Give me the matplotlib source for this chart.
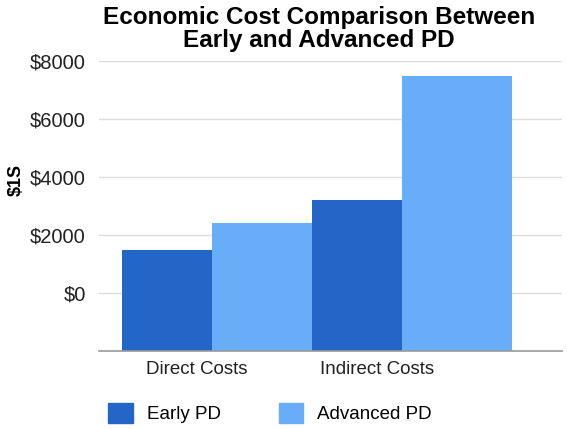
import matplotlib
matplotlib.use('Agg')
import matplotlib.pyplot as plt
from matplotlib.patches import Patch
import numpy as np

plt.rcParams['font.family'] = ['Liberation Sans', 'DejaVu Sans']

# data
categories = ['Direct Costs', 'Indirect Costs']
early_pd = [1500, 3200]
advanced_pd = [2400, 7500]
y_ticks = [0, 2000, 4000, 6000, 8000]
y_bottom = -2000

early_color = '#2366C8'
adv_color = '#67ADF7'

fig = plt.figure(figsize=(5.67, 4.29), dpi=100)
ax = fig.add_axes([99 / 567, 1 - 351 / 429, 463 / 567, 290 / 429])

x = np.arange(len(categories), dtype=float)
# bars start at the bottom of the axis, not at zero
ax.bar(x - 0.474, np.array(early_pd) - y_bottom, 0.474,
       bottom=y_bottom, align='edge', color=early_color, zorder=3)
ax.bar(x, np.array(advanced_pd) - y_bottom, [0.526, 0.579],
       bottom=y_bottom, align='edge', color=adv_color, zorder=3)

ax.set_ylim(y_bottom, 8000)
ax.set_xlim(-0.595, 1.84)
ax.set_yticks(y_ticks)
ax.set_yticklabels(['$' + str(v) for v in y_ticks], fontsize=14.5)
ax.set_xticks(x - np.array([0.08, 0.13]))
ax.set_xticklabels(categories, fontsize=13.5)
ax.tick_params(axis='y', length=0, pad=9.5, colors='#222222')
ax.tick_params(axis='x', length=0, pad=7, colors='#222222')
ax.grid(axis='y', color='#dddddd', linewidth=1, zorder=0)
for s in ['top', 'right', 'left']:
    ax.spines[s].set_visible(False)
ax.spines['bottom'].set_color('#999999')
ax.spines['bottom'].set_linewidth(1.2)
ax.spines['bottom'].set_zorder(4)

ax.set_ylabel('$1S', fontsize=13, fontweight='bold')
ax.yaxis.set_label_coords(-0.16, 0.59)

fig.text(319 / 567, 1 - 29 / 429, 'Economic Cost Comparison Between\nEarly and Advanced PD',
         ha='center', va='center', fontsize=17.5, fontweight='bold', linespacing=1.0)

handles = [Patch(color=early_color, label='Early PD'),
           Patch(color=adv_color, label='Advanced PD')]
fig.legend(handles=handles, loc='center', bbox_to_anchor=(270 / 567, 1 - 413 / 429),
           ncol=2, frameon=False, fontsize=13.5, handlelength=1.3, handleheight=1.3,
           columnspacing=3.1, handletextpad=0.75)

fig.savefig('out.png', dpi=100)
